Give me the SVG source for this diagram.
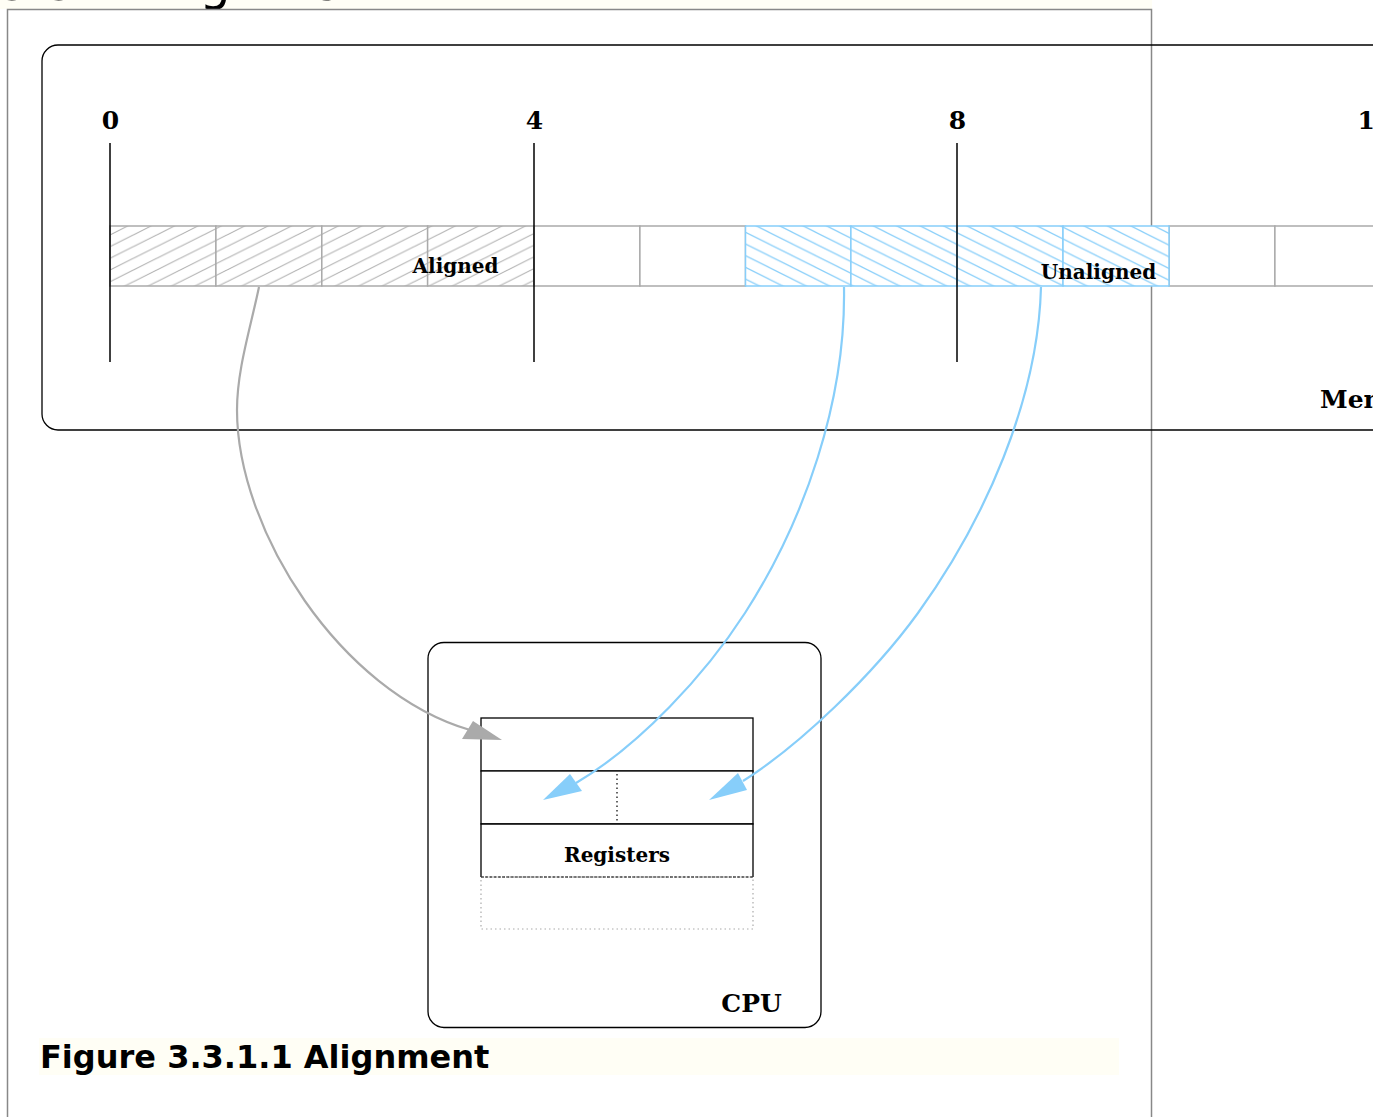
<svg xmlns="http://www.w3.org/2000/svg" width="1373" height="1117" viewBox="0 0 1373 1117">
<style>
  .lbl { font-family: "DejaVu Serif", "Liberation Serif", serif; font-weight: bold; fill: #000; }
  .sans { font-family: "DejaVu Sans", "Liberation Sans", sans-serif; fill: #000; }
  .box { fill: none; stroke: #000; stroke-width: 1.3; }
  .tick { stroke: #000; stroke-width: 1.5; }
  .cell { stroke: #aaaaaa; stroke-width: 1.5; fill: #fff; }
  .cellg { stroke: #aaaaaa; stroke-width: 1.5; fill: url(#hatchGray); }
  .cellb { stroke: #87cefa; stroke-width: 1.5; fill: url(#hatchBlue); }
  .reg { fill: #fff; stroke: #000; stroke-width: 1.3; }
  .conn-g { fill: none; stroke: #aaaaaa; stroke-width: 2.2; }
  .conn-b { fill: none; stroke: #87cefa; stroke-width: 2.2; }
  .head-g { fill: #aaaaaa; }
  .head-b { fill: #87cefa; }
</style>
<defs>
  <pattern id="hatchGray" patternUnits="userSpaceOnUse" x="110" y="270" width="23.4" height="11.7">
    <rect width="23.4" height="11.7" fill="#fff"/>
    <path d="M0,11.7 L23.4,0 M-2.34,1.17 L2.34,-1.17 M21.06,12.87 L25.74,10.53" stroke="#aaaaaa" stroke-width="1"/>
  </pattern>
  <pattern id="hatchBlue" patternUnits="userSpaceOnUse" x="745" y="232" width="23.4" height="11.7">
    <rect width="23.4" height="11.7" fill="#fff"/>
    <path d="M0,0 L23.4,11.7 M-2.34,10.53 L2.34,12.87 M21.06,-1.17 L25.74,1.17" stroke="#87cefa" stroke-width="1.2"/>
  </pattern>
</defs>

<rect x="0" y="0" width="1373" height="1117" fill="#fff"/>

<g id="heading">
  <rect x="0" y="0" width="1152" height="9" fill="#fffef5"/>
  <text class="sans" x="-1.5" y="-0.5" font-size="49">3.3.1 Alignment</text>
</g>

<g id="frame">
  <rect x="7.5" y="9.5" width="1144" height="1200" fill="#fff" stroke="#888888" stroke-width="1.5"/>
</g>

<g id="memory">
  <rect class="box" x="42" y="45" width="1800" height="385" rx="16" ry="16"/>
  <text class="lbl" x="1320" y="408" font-size="25">Memory</text>
</g>

<g id="cells">
  <rect class="cellg" x="110" y="226" width="105.9" height="60"/>
  <rect class="cellg" x="215.9" y="226" width="105.9" height="60"/>
  <rect class="cellg" x="321.8" y="226" width="105.9" height="60"/>
  <rect class="cellg" x="427.6" y="226" width="106.4" height="60"/>
  <rect class="cell" x="534" y="226" width="105.9" height="60"/>
  <rect class="cell" x="639.9" y="226" width="105.6" height="60"/>
  <rect class="cell" x="1169" y="226" width="105.9" height="60"/>
  <rect class="cell" x="1274.9" y="226" width="106.1" height="60"/>
  <rect class="cell" x="1381" y="226" width="105.9" height="60"/>
  <rect class="cellb" x="745.5" y="226" width="105.4" height="60"/>
  <rect class="cellb" x="850.9" y="226" width="106.1" height="60"/>
  <rect class="cellb" x="957" y="226" width="106" height="60"/>
  <rect class="cellb" x="1063" y="226" width="106" height="60"/>
  <text class="lbl" x="455.5" y="272.5" font-size="20" text-anchor="middle">Aligned</text>
  <text class="lbl" x="1098.5" y="279" font-size="20" text-anchor="middle">Unaligned</text>
</g>

<g id="ticks">
  <line class="tick" x1="110" y1="143" x2="110" y2="362"/>
  <line class="tick" x1="534" y1="143" x2="534" y2="362"/>
  <line class="tick" x1="957" y1="143" x2="957" y2="362"/>
  <line class="tick" x1="1381" y1="143" x2="1381" y2="362"/>
  <text class="lbl" x="110.5" y="129" font-size="25" text-anchor="middle">0</text>
  <text class="lbl" x="534.5" y="129" font-size="25" text-anchor="middle">4</text>
  <text class="lbl" x="957.5" y="129" font-size="25" text-anchor="middle">8</text>
  <text class="lbl" x="1375" y="129" font-size="25" text-anchor="middle">12</text>
</g>

<g id="cpu">
  <rect class="box" x="428" y="642.5" width="393" height="385" rx="16" ry="16"/>
  <text class="lbl" x="751.5" y="1012" font-size="25" text-anchor="middle">CPU</text>
</g>

<g id="registers">
  <rect class="reg" x="481" y="718" width="272" height="53"/>
  <rect class="reg" x="481" y="771" width="272" height="53"/>
  <line x1="617" y1="774" x2="617" y2="822" stroke="#000" stroke-width="1.2" stroke-dasharray="1.5,3"/>
  <path d="M481,877 L481,824 L753,824 L753,877" fill="#fff" stroke="#000" stroke-width="1.3"/>
  <rect x="481" y="877" width="272" height="52" fill="none" stroke="#aaaaaa" stroke-width="1.2" stroke-dasharray="1.5,3"/>
  <line x1="481" y1="877" x2="753" y2="877" stroke="#000" stroke-width="1.2" stroke-dasharray="3,1.2"/>
  <text class="lbl" x="617" y="862" font-size="20" text-anchor="middle">Registers</text>
</g>

<g id="connectors">
  <path class="conn-g" d="M259,287 C250,330 237,370 237,410 C237,530 340,692 470,730"/>
  <polygon class="head-g" points="502,740 462,739 473,721"/>
  <path class="conn-b" d="M844,287 C846,400 805,520 745,613 C705,675 640,745 576,783"/>
  <polygon class="head-b" points="543,800 582,791 570,774"/>
  <path class="conn-b" d="M1041,287 C1038,400 985,520 918,613 C873,675 800,745 743,781"/>
  <polygon class="head-b" points="709,800 747,790 738,773"/>
</g>

<g id="caption">
  <rect x="39" y="1038" width="1080" height="37" fill="#fffef5"/>
  <text class="sans" x="40" y="1068" font-size="32" font-weight="bold">Figure 3.3.1.1 Alignment</text>
</g>
</svg>
